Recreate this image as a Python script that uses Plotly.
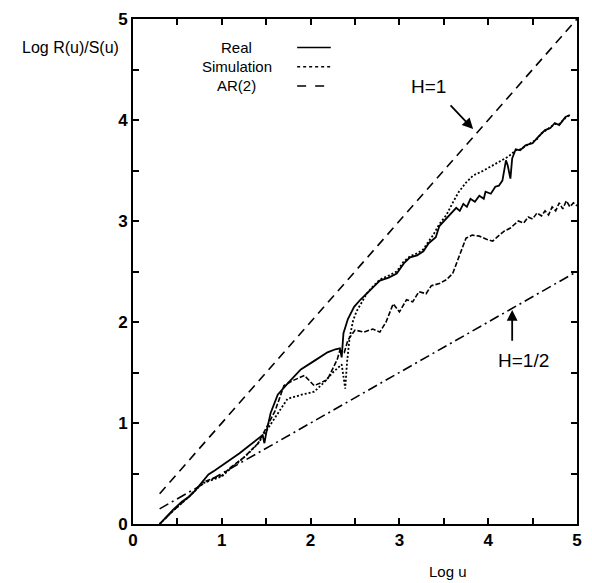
import plotly.graph_objects as go

# log u values and log R/S values
real_x = [0.30, 0.45, 0.55, 0.63, 0.70, 0.78, 0.85, 0.92, 1.00, 1.05, 1.11, 1.20, 1.30, 1.41, 1.46, 1.48, 1.50,
          1.55, 1.63, 1.75, 1.89, 2.05, 2.19, 2.28, 2.33, 2.35, 2.37, 2.42, 2.49, 2.56, 2.63, 2.70, 2.78, 2.88,
          2.97, 3.05, 3.12, 3.20, 3.27, 3.33, 3.38, 3.41, 3.45, 3.50, 3.53, 3.58, 3.64, 3.68, 3.72, 3.76, 3.80,
          3.85, 3.90, 3.95, 3.97, 4.03, 4.08, 4.12, 4.16, 4.20, 4.22, 4.25, 4.27, 4.31, 4.36, 4.42, 4.50, 4.55,
          4.60, 4.64, 4.70, 4.75, 4.80, 4.87, 4.92]
real_y = [0.00, 0.14, 0.22, 0.27, 0.33, 0.42, 0.49, 0.53, 0.58, 0.61, 0.64, 0.70, 0.77, 0.85, 0.88, 0.80, 0.90,
          1.10, 1.28, 1.40, 1.53, 1.62, 1.70, 1.73, 1.74, 1.65, 1.89, 2.03, 2.15, 2.22, 2.28, 2.34, 2.41, 2.44,
          2.48, 2.58, 2.64, 2.66, 2.70, 2.78, 2.82, 2.84, 2.95, 3.00, 3.03, 3.08, 3.13, 3.10, 3.17, 3.14, 3.22,
          3.19, 3.25, 3.22, 3.29, 3.27, 3.34, 3.35, 3.40, 3.60, 3.55, 3.42, 3.62, 3.71, 3.70, 3.75, 3.77, 3.82,
          3.86, 3.90, 3.92, 3.97, 3.95, 4.03, 4.05]

sim_x = [0.30, 0.45, 0.63, 0.78, 0.90, 1.00, 1.10, 1.20, 1.30, 1.41, 1.50, 1.60, 1.74, 1.90, 2.04, 2.15, 2.25,
         2.35, 2.39, 2.41, 2.44, 2.48, 2.52, 2.58, 2.63, 2.70, 2.78, 2.88, 2.97, 3.05, 3.12, 3.20, 3.27, 3.33,
         3.38, 3.45, 3.53, 3.60, 3.67, 3.75, 3.83, 3.95, 4.05, 4.15, 4.23, 4.31, 4.36, 4.42, 4.50, 4.55, 4.60,
         4.64, 4.70, 4.75, 4.80, 4.87, 4.92]
sim_y = [0.00, 0.13, 0.27, 0.40, 0.44, 0.47, 0.55, 0.62, 0.70, 0.80, 0.92, 1.05, 1.24, 1.28, 1.31, 1.40, 1.50,
         1.58, 1.34, 1.60, 1.85, 2.02, 2.11, 2.20, 2.28, 2.35, 2.42, 2.46, 2.50, 2.60, 2.65, 2.68, 2.72, 2.80,
         2.86, 2.97, 3.06, 3.18, 3.29, 3.38, 3.45, 3.50, 3.55, 3.60, 3.64, 3.70, 3.71, 3.74, 3.78, 3.81, 3.87,
         3.89, 3.93, 3.96, 3.96, 4.02, 4.05]

ar_x = [0.30, 0.45, 0.63, 0.78, 0.90, 1.00, 1.10, 1.25, 1.41, 1.50, 1.60, 1.70, 1.80, 1.93, 2.04, 2.12, 2.19,
        2.30, 2.33, 2.38, 2.42, 2.50, 2.60, 2.70, 2.78, 2.85, 2.93, 3.00, 3.08, 3.15, 3.22, 3.30, 3.36, 3.45,
        3.53, 3.60, 3.64, 3.70, 3.75, 3.82, 3.90, 3.98, 4.05, 4.10, 4.18, 4.25, 4.30, 4.34, 4.40, 4.45, 4.50,
        4.55, 4.60, 4.64, 4.68, 4.72, 4.76, 4.80, 4.84, 4.88, 4.92, 4.96, 5.00]
ar_y = [0.00, 0.13, 0.27, 0.41, 0.45, 0.48, 0.56, 0.66, 0.80, 0.95, 1.12, 1.37, 1.42, 1.47, 1.37, 1.40, 1.43,
        1.63, 1.72, 1.70, 1.82, 1.92, 1.90, 1.93, 1.90, 2.00, 2.18, 2.10, 2.22, 2.20, 2.30, 2.28, 2.36, 2.38,
        2.42, 2.48, 2.57, 2.70, 2.83, 2.86, 2.85, 2.82, 2.80, 2.84, 2.90, 2.93, 2.97, 3.00, 2.98, 3.04, 3.02,
        3.08, 3.05, 3.10, 3.06, 3.14, 3.10, 3.18, 3.12, 3.20, 3.14, 3.18, 3.15]

h1_x = [0.3, 5.0]
h1_y = [0.3, 5.0]
hhalf_x = [0.3, 5.0]
hhalf_y = [0.15, 2.5]

legend_names = ["Real", "Simulation", "AR(2)"]
legend_dash = ["solid", "dot", "dash"]

tick_vals = [0, 0.5, 1, 1.5, 2, 2.5, 3, 3.5, 4, 4.5, 5]
tick_text = ["0", "", "1", "", "2", "", "3", "", "4", "", "5"]

font = "Liberation Sans, Arial, sans-serif"

fig = go.Figure()
fig.add_trace(go.Scatter(x=h1_x, y=h1_y, mode="lines",
                         line=dict(color="black", width=1.6, dash="9px,6px")))
fig.add_trace(go.Scatter(x=hhalf_x, y=hhalf_y, mode="lines",
                         line=dict(color="black", width=1.6, dash="10px,4px,2px,4px")))
fig.add_trace(go.Scatter(x=ar_x, y=ar_y, mode="lines",
                         line=dict(color="black", width=1.6, dash="5px,2px")))
fig.add_trace(go.Scatter(x=sim_x, y=sim_y, mode="lines",
                         line=dict(color="black", width=1.8, dash="2px,2px")))
fig.add_trace(go.Scatter(x=real_x, y=real_y, mode="lines",
                         line=dict(color="black", width=1.8)))

axis = dict(range=[0, 5], tickvals=tick_vals, ticktext=tick_text, ticks="inside", ticklen=6,
            tickwidth=1.5, tickcolor="black", showline=True, linecolor="black", linewidth=2,
            mirror="ticks", showgrid=False, zeroline=False,
            tickfont=dict(family=font, size=17, color="black", weight="bold"))

fig.update_layout(
    width=592, height=583,
    margin=dict(l=133, r=10, t=11, b=59),
    paper_bgcolor="white", plot_bgcolor="white",
    showlegend=False,
    xaxis=axis, yaxis=axis,
)

# hand-drawn legend: text on the left, line sample on the right
for i, (name, dash) in enumerate(zip(legend_names, legend_dash)):
    yp = 1 - (29 + 19.5 * i) / 513
    fig.add_annotation(x=(238 - 133) / 449, y=yp, xref="paper", yref="paper", text=name,
                       xanchor="center", yanchor="middle", showarrow=False,
                       font=dict(family=font, size=15, color="black"))
    fig.add_shape(type="line", xref="paper", yref="paper",
                  x0=(299 - 133) / 449, x1=(333 - 133) / 449, y0=yp, y1=yp,
                  line=dict(color="black", width=1.5, dash=dash))

fig.add_annotation(x=0, y=5, xref="paper", yref="y", text="Log R(u)/S(u)", showarrow=False,
                   xanchor="right", yanchor="middle", xshift=-12, yshift=-28,
                   font=dict(family=font, size=16, color="black"))
fig.add_annotation(x=3.55, y=0, text="Log u", showarrow=False, yanchor="middle", yshift=-47,
                   font=dict(family=font, size=15, color="black"))

fig.add_annotation(x=3.33, y=4.33, text="H=1", showarrow=False,
                   font=dict(family=font, size=19, color="black"))
fig.add_annotation(x=3.83, y=3.91, ax=3.56, ay=4.16, axref="x", ayref="y", text="",
                   showarrow=True, arrowhead=2, arrowsize=1.2, arrowwidth=1.8, arrowcolor="black")
fig.add_annotation(x=4.4, y=1.62, text="H=1/2", showarrow=False,
                   font=dict(family=font, size=19, color="black"))
fig.add_annotation(x=4.27, y=2.12, ax=4.27, ay=1.8, axref="x", ayref="y", text="",
                   showarrow=True, arrowhead=2, arrowsize=1.2, arrowwidth=1.8, arrowcolor="black")

# the page body has a default 8px margin; drop it so the figure fills the window
fig.write_html("out.html", config={"displayModeBar": False},
               post_script="document.body.style.margin='0';")
